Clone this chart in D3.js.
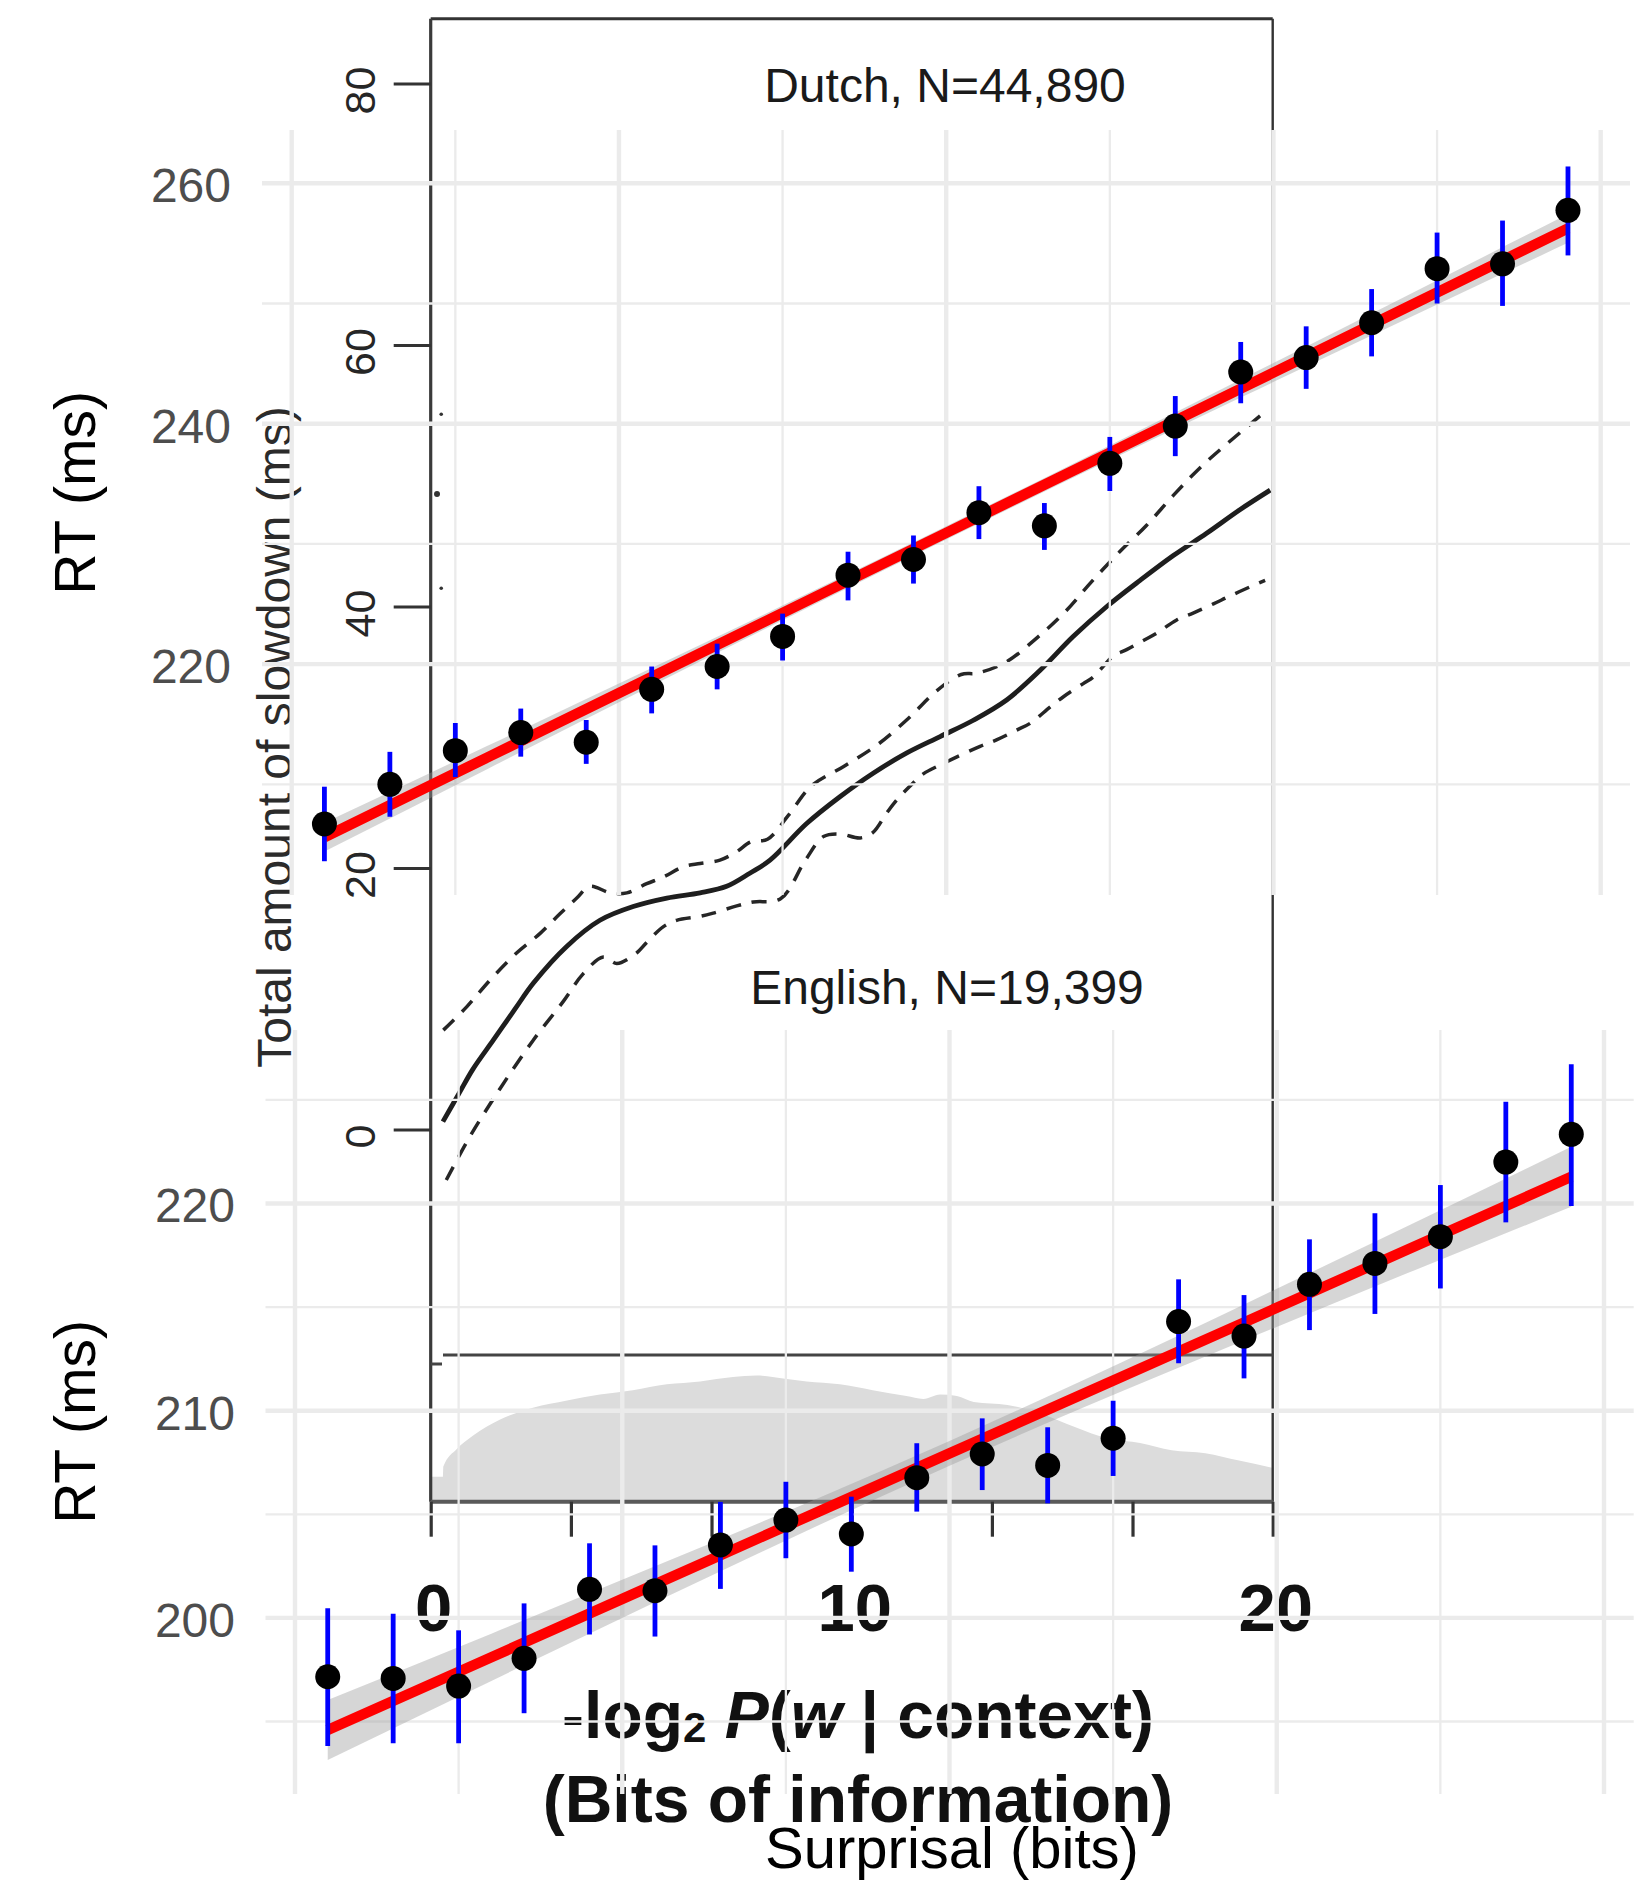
<!DOCTYPE html>
<html>
<head>
<meta charset="utf-8">
<script src="https://cdn.jsdelivr.net/npm/d3@7"></script>
<style>
  html, body { margin: 0; padding: 0; background: #fff; }
  svg { display: block; }
</style>
</head>
<body>
<svg id="chart" width="1645" height="1882"></svg>
<script>
// ---------------- DATA ----------------
// surprisal bins (bits) used for both panels
const surprisalBins = [0.5,1.5,2.5,3.5,4.5,5.5,6.5,7.5,8.5,9.5,10.5,11.5,12.5,13.5,14.5,15.5,16.5,17.5,18.5,19.5];

// Dutch panel (RT ms)
const dutchMean  = [206.7,210.0,212.8,214.3,213.5,217.9,219.8,222.3,227.4,228.7,232.6,231.5,236.7,239.8,244.3,245.5,248.4,252.9,253.3,257.75];
const dutchLower = [203.6,207.3,210.6,212.3,211.7,215.9,217.9,220.3,225.3,226.7,230.4,229.5,234.4,237.3,241.7,242.9,245.6,250.0,249.8,254.0];
const dutchUpper = [209.8,212.7,215.1,216.3,215.35,219.8,221.7,224.2,229.35,230.7,234.8,233.4,238.9,242.3,246.8,248.1,251.2,255.9,256.9,261.4];

// English panel (RT ms)
const englishMean  = [197.16,197.08,196.71,198.05,201.38,201.31,203.52,204.72,204.05,206.77,207.91,207.36,208.67,214.3,213.6,216.1,217.11,218.4,222.0,223.34];
const englishLower = [193.82,193.95,193.95,195.4,199.2,199.1,201.4,202.88,202.23,205.13,206.17,205.53,206.85,212.29,211.56,213.89,214.67,215.9,219.09,219.88];
const englishUpper = [200.46,200.2,199.4,200.7,203.6,203.5,205.6,206.57,205.85,208.43,209.63,209.2,210.48,216.34,215.58,218.27,219.53,220.89,224.91,226.72];

// linear fit + confidence band
const fitX          = [0.5,3,5.5,8,10,12,14.5,17,19.5];
const dutchFit      = [205.60,212.26,218.93,225.59,230.92,236.25,242.92,249.58,256.25];
const dutchFitLo    = [204.40,211.30,218.19,225.00,230.37,235.66,242.18,248.62,255.05];
const dutchFitHi    = [206.80,213.22,219.67,226.18,231.47,236.84,243.67,250.54,257.45];
const englishFit    = [194.59,198.10,201.62,205.13,207.94,210.75,214.26,217.78,221.29];
const englishFitLo  = [193.14,196.96,200.75,204.47,207.34,210.09,213.39,216.64,219.84];
const englishFitHi  = [196.04,199.24,202.49,205.79,208.54,211.41,215.13,218.92,222.74];

// tick labels
const dutchTicks = [220,240,260];
const dutchMinor = [210,230,250];
const englishTicks = [200,210,220];
const englishMinor = [195,205,215,225];
const xMajor = [0,5,10,15,20];
const xMinor = [2.5,7.5,12.5,17.5];

// background (older) figure: slowdown curve vs -log2 P(w|context)
const oldYTicks = [0,20,40,60,80];
const oldXTicks = [0,3.33,6.67,10,13.33,16.67,20];
const oldXLabels = [0,10,20];
const slowX   = [0.29,0.68,1.0,1.49,2.0,2.44,3.23,4.02,4.81,5.61,6.4,7.03,7.58,8.06,8.93,9.72,10.51,11.31,12.1,12.89,13.68,14.47,15.26,16.06,16.85,17.64,18.43,19.22,19.94];
const slowVal = [0.6,2.8,4.6,6.85,9.2,11.2,14.0,16.0,17.05,17.7,18.1,18.6,19.6,20.6,23.4,25.45,27.25,28.8,30.05,31.3,32.85,35.1,37.7,40.0,42.0,43.9,45.6,47.4,48.9];
const upX   = [0.3,0.86,1.41,2.04,2.6,3.07,3.47,3.78,4.26,4.66,5.13,5.52,6.0,6.4,6.87,7.27,7.6,8.0,8.49,9.05,9.8,10.6,11.35,12.0,12.6,12.97,13.64,14.4,15.07,15.7,16.37,17.0,17.64,18.27,18.97,19.86];
const upVal = [7.6,9.4,11.43,13.5,15.0,16.5,17.7,18.6,18.1,18.1,18.8,19.3,20.1,20.35,20.6,21.25,22.0,22.2,24.0,26.3,27.75,29.4,31.45,33.5,34.8,34.9,35.7,37.6,39.6,41.9,44.2,46.2,48.5,50.6,52.6,55.0];
const loX   = [0.37,0.92,1.65,2.44,3.15,3.62,4.1,4.42,4.89,5.13,5.52,5.84,6.4,6.71,7.27,7.66,8.31,8.9,9.33,9.72,10.2,10.5,10.83,11.07,11.46,11.7,12.18,12.5,13.05,13.44,13.92,14.24,14.71,15.03,15.5,15.74,16.21,16.53,16.93,17.24,17.72,18.11,18.59,18.95,19.46,19.82];
const loVal = [-3.86,-0.6,3.14,6.85,9.8,11.9,13.2,12.7,13.5,14.3,15.5,16.0,16.3,16.55,17.1,17.4,17.65,20.6,22.4,22.6,22.3,22.7,24.2,25.2,26.5,27.2,28.0,28.5,29.3,29.8,30.55,31.07,32.3,33.1,34.1,34.6,36.2,36.7,37.4,37.95,38.97,39.5,40.2,40.75,41.5,42.0];
// small leftover curve marks next to the old y axis (old x, old y)
const residueX = [0.25,0.15,0.25];
const residueY = [54.7,48.6,41.4];
// density of surprisal values (relative)
const densX = [0,0.29,0.3,0.62,1.0,1.65,2.43,3.24,4.02,4.8,5.61,6.4,7.18,7.74,8.37,8.93,9.72,10.5,11.3,11.7,12.1,12.5,12.9,13.7,14.5,15.3,16.1,16.85,17.6,18.4,19.2,20];
const densH = [0.17,0.17,0.24,0.36,0.45,0.56,0.64,0.69,0.73,0.76,0.80,0.82,0.85,0.86,0.84,0.82,0.80,0.76,0.72,0.70,0.73,0.72,0.68,0.66,0.60,0.51,0.43,0.40,0.35,0.33,0.28,0.23];

// ---------------- DRAW ----------------
const FONT = '"Liberation Sans", Arial, Helvetica, sans-serif';
const svg = d3.select('#chart');
svg.append('rect').attr('width',1645).attr('height',1882).attr('fill','#fff');

// ======= older figure (underneath) =======
const ox = d3.scaleLinear().domain([0,20]).range([430.7,1272.7]);
const oy = d3.scaleLinear().domain([0,80]).range([1129.5,83.5]);
const od = d3.scaleLinear().domain([0,1]).range([1501.7,1355]);
const old = svg.append('g');

old.append('path')
  .datum(densX.map((x,i)=>[x,densH[i]]))
  .attr('d', d3.area().x(d=>ox(d[0])).y0(od(0)).y1(d=>od(d[1])).curve(d3.curveMonotoneX))
  .attr('fill','#dcdcdc');

const L = ox(0), R = ox(20);
const frame = [
  [L,18.75,R,18.75,3.2,'#333'],
  [R,18.75,R,1501.7,2.4,'#333'],
  [L,18.75,L,1501.7,3.2,'#3a3a3a'],
  [443,1355,R,1355,3.2,'#444'],
  [L,1364,442,1364,3,'#444'],
  [L,1501.7,R,1501.7,4,'#5a5a5a']
];
old.selectAll('line.fr').data(frame).join('line')
  .attr('x1',d=>d[0]).attr('y1',d=>d[1]).attr('x2',d=>d[2]).attr('y2',d=>d[3])
  .attr('stroke',d=>d[5]).attr('stroke-width',d=>d[4]);

// old y axis ticks
const oyAxis = old.append('g').attr('transform',`translate(${L},0)`)
  .call(d3.axisLeft(oy).tickValues(oldYTicks).tickSize(37).tickSizeOuter(0).tickFormat(''));
oyAxis.select('.domain').remove();
oyAxis.selectAll('line').attr('stroke','#333').attr('stroke-width',3);
old.selectAll('text.oyl').data(oldYTicks).join('text')
  .attr('transform',d=>`translate(375,${oy(d)+7}) rotate(-90)`)
  .attr('text-anchor','middle')
  .attr('font-family',FONT).attr('font-size',43).attr('fill','#262626')
  .text(d=>d);
old.append('text')
  .attr('transform','translate(290.5,737) rotate(-90)')
  .attr('text-anchor','middle')
  .attr('font-family',FONT).attr('font-size',48).attr('fill','#2b2b2b')
  .text('Total amount of slowdown (ms)');

// old x axis ticks
const oxAxis = old.append('g').attr('transform','translate(0,1501.7)')
  .call(d3.axisBottom(ox).tickValues(oldXTicks).tickSize(35).tickSizeOuter(0).tickFormat(''));
oxAxis.select('.domain').remove();
oxAxis.selectAll('line').attr('stroke','#333').attr('stroke-width',3.2);
old.selectAll('text.oxl').data(oldXLabels).join('text')
  .attr('x',d=>ox(d)+3).attr('y',1631)
  .attr('text-anchor','middle')
  .attr('font-family',FONT).attr('font-size',67).attr('font-weight','bold').attr('fill','#111')
  .text(d=>d);

// curves
const oLine = d3.line().x(d=>ox(d[0])).y(d=>oy(d[1])).curve(d3.curveCatmullRom.alpha(0.5));
old.append('path').datum(slowX.map((x,i)=>[x,slowVal[i]])).attr('d',oLine)
  .attr('fill','none').attr('stroke','#1e1e1e').attr('stroke-width',4.8);
old.append('path').datum(upX.map((x,i)=>[x,upVal[i]])).attr('d',oLine)
  .attr('fill','none').attr('stroke','#262626').attr('stroke-width',3.5).attr('stroke-dasharray','15,11');
old.append('path').datum(loX.map((x,i)=>[x,loVal[i]])).attr('d',oLine)
  .attr('fill','none').attr('stroke','#262626').attr('stroke-width',3.5).attr('stroke-dasharray','15,11');
old.selectAll('circle.res').data(residueX).join('circle')
  .attr('cx',d=>ox(d)).attr('cy',(d,i)=>oy(residueY[i])).attr('r',(d,i)=>i===1?3:1.8)
  .attr('fill','#333');

// old x title
const t1 = old.append('text').attr('x',858).attr('y',1738).attr('text-anchor','middle')
  .attr('font-family',FONT).attr('font-size',66).attr('font-weight','bold').attr('fill','#111');
t1.append('tspan').text('-log');
t1.append('tspan').attr('font-size',42).attr('dy',4).text('2');
t1.append('tspan').attr('dy',-4).text(' ');
t1.append('tspan').attr('font-style','italic').text('P');
t1.append('tspan').text('(');
t1.append('tspan').attr('font-style','italic').text('w');
t1.append('tspan').text(' | context)');
old.append('text').attr('x',858).attr('y',1822).attr('text-anchor','middle')
  .attr('font-family',FONT).attr('font-size',66).attr('font-weight','bold').attr('fill','#111')
  .text('(Bits of information)');

// ======= ggplot-style figure (on top) =======
const panels = [
  { name:'Dutch, N=44,890', mean:dutchMean, lo:dutchLower, hi:dutchUpper,
    fit:dutchFit, fitLo:dutchFitLo, fitHi:dutchFitHi, ticks:dutchTicks, minor:dutchMinor,
    x:d3.scaleLinear().domain([0,20]).range([291.7,1600.7]),
    y:d3.scaleLinear().domain([220,260]).range([664.1,183.3]),
    top:130, bottom:895, left:262, right:1630, labelY:101.8, labelX:945, titleY:493, tickPad:31 },
  { name:'English, N=19,399', mean:englishMean, lo:englishLower, hi:englishUpper,
    fit:englishFit, fitLo:englishFitLo, fitHi:englishFitHi, ticks:englishTicks, minor:englishMinor,
    x:d3.scaleLinear().domain([0,20]).range([295,1604]),
    y:d3.scaleLinear().domain([200,220]).range([1617.9,1203.5]),
    top:1030, bottom:1794, left:265.5, right:1633.7, labelY:1003.6, labelX:947, titleY:1422, tickPad:30.5 }
];

const GRID = '#ebebeb';
panels.forEach(p => {
  const g = svg.append('g');
  // minor grid
  g.selectAll('line.hmin').data(p.minor).join('line')
    .attr('x1',p.left).attr('x2',p.right).attr('y1',d=>p.y(d)).attr('y2',d=>p.y(d))
    .attr('stroke',GRID).attr('stroke-width',2.3);
  g.selectAll('line.vmin').data(xMinor).join('line')
    .attr('y1',p.top).attr('y2',p.bottom).attr('x1',d=>p.x(d)).attr('x2',d=>p.x(d))
    .attr('stroke',GRID).attr('stroke-width',2.3);
  // major grid
  g.selectAll('line.hmaj').data(p.ticks).join('line')
    .attr('x1',p.left).attr('x2',p.right).attr('y1',d=>p.y(d)).attr('y2',d=>p.y(d))
    .attr('stroke',GRID).attr('stroke-width',4.4);
  g.selectAll('line.vmaj').data(xMajor).join('line')
    .attr('y1',p.top).attr('y2',p.bottom).attr('x1',d=>p.x(d)).attr('x2',d=>p.x(d))
    .attr('stroke',GRID).attr('stroke-width',4.4);

  // ribbon
  g.append('path')
    .datum(fitX.map((x,i)=>({x, lo:p.fitLo[i], hi:p.fitHi[i]})))
    .attr('d', d3.area().x(d=>p.x(d.x)).y0(d=>p.y(d.lo)).y1(d=>p.y(d.hi)).curve(d3.curveMonotoneX))
    .attr('fill','#999999').attr('fill-opacity',0.4);
  // fit line
  g.append('path')
    .datum(fitX.map((x,i)=>[x,p.fit[i]]))
    .attr('d', d3.line().x(d=>p.x(d[0])).y(d=>p.y(d[1])))
    .attr('fill','none').attr('stroke','#ff0000').attr('stroke-width',10.5);
  // error bars
  g.selectAll('line.eb').data(surprisalBins).join('line')
    .attr('x1',d=>p.x(d)).attr('x2',d=>p.x(d))
    .attr('y1',(d,i)=>p.y(p.lo[i])).attr('y2',(d,i)=>p.y(p.hi[i]))
    .attr('stroke','#0000ff').attr('stroke-width',4.8);
  // points
  g.selectAll('circle').data(surprisalBins).join('circle')
    .attr('cx',d=>p.x(d)).attr('cy',(d,i)=>p.y(p.mean[i])).attr('r',12.5)
    .attr('fill','#000');

  // y axis labels
  const ax = g.append('g').attr('transform',`translate(${p.left},0)`)
    .call(d3.axisLeft(p.y).tickValues(p.ticks).tickSize(0).tickPadding(p.tickPad));
  ax.select('.domain').remove();
  ax.selectAll('text').attr('font-family',FONT).attr('font-size',48).attr('fill','#4d4d4d').attr('dy','0.385em');

  // strip label
  g.append('text').attr('x',p.labelX).attr('y',p.labelY).attr('text-anchor','middle')
    .attr('font-family',FONT).attr('font-size',48).attr('fill','#1a1a1a').text(p.name);
  // y title
  g.append('text').attr('transform',`translate(95,${p.titleY}) rotate(-90)`).attr('text-anchor','middle')
    .attr('font-family',FONT).attr('font-size',57).attr('fill','#000').text('RT (ms)');
});

svg.append('text').attr('x',952).attr('y',1868).attr('text-anchor','middle')
  .attr('font-family',FONT).attr('font-size',58).attr('fill','#000').text('Surprisal (bits)');
</script>
</body>
</html>
